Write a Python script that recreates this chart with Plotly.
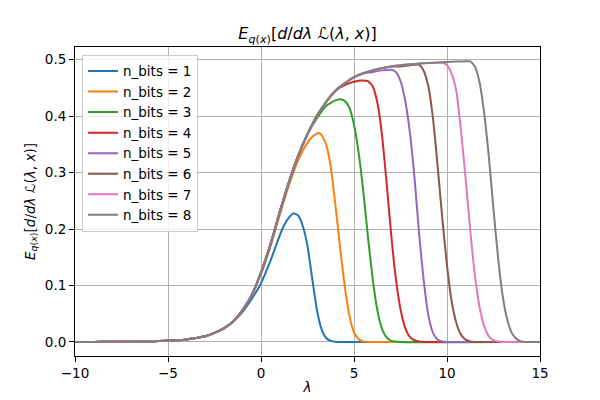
import plotly.graph_objects as go

# shared rising envelope
env_x = [-10.5, -10, -9, -8, -7, -6, -5, -4.5, -4, -3.5, -3, -2.5, -2, -1.5, -1, -0.5,
         0, 0.5, 1, 1.5, 2, 2.5, 3, 3.5, 4, 4.5, 5, 5.5, 6, 6.5, 7, 7.5, 8,
         8.5, 9, 9.5, 10, 10.5]
env_y = [0.0, 0.0, 0.0001, 0.0002, 0.0005, 0.001, 0.002, 0.003, 0.0045, 0.007, 0.010,
         0.016, 0.024, 0.036, 0.056, 0.083, 0.123, 0.172, 0.229, 0.283, 0.330,
         0.368, 0.400, 0.425, 0.445, 0.458, 0.469, 0.476, 0.481, 0.485, 0.488,
         0.490, 0.492, 0.493, 0.494, 0.495, 0.496, 0.4965]

# per-series part after each curve leaves the envelope
tail_x = {
    1: [-1.0, -0.5, 0, 0.5, 1.0, 1.25, 1.5, 1.75, 2.0, 2.25, 2.5, 2.75, 3.0, 3.25, 3.5, 3.75, 4.0, 4.5, 15],
    2: [0, 0.5, 1.0, 1.5, 2.0, 2.5, 2.75, 3.0, 3.1, 3.25, 3.5, 3.75, 4.0, 4.25, 4.5, 4.75, 5.0, 5.25, 5.5, 6.0, 15],
    3: [3.0, 3.5, 4.0, 4.25, 4.5, 4.75, 5.0, 5.25, 5.5, 5.75, 6.0, 6.25, 6.5, 6.75, 7.0, 7.5, 15],
    4: [4.5, 5.0, 5.5, 5.75, 6.0, 6.25, 6.5, 6.75, 7.0, 7.25, 7.5, 7.75, 8.0, 8.25, 8.5, 9.0, 15],
    5: [6.0, 6.5, 7.0, 7.25, 7.5, 7.75, 8.0, 8.25, 8.5, 8.75, 9.0, 9.25, 9.5, 9.75, 10.0, 15],
    6: [7.5, 8.0, 8.5, 8.75, 9.0, 9.25, 9.5, 9.75, 10.0, 10.25, 10.5, 10.75, 11.0, 11.25, 11.5, 15],
    7: [9.5, 9.75, 10.0, 10.25, 10.5, 10.75, 11.0, 11.25, 11.5, 11.75, 12.0, 12.25, 12.5, 12.75, 13.0, 15],
    8: [11.0, 11.25, 11.5, 11.75, 12.0, 12.25, 12.5, 12.75, 13.0, 13.25, 13.5, 13.75, 14.0, 14.25, 15],
}
tail_y = {
    1: [0.053, 0.076, 0.104, 0.143, 0.188, 0.207, 0.220, 0.228, 0.224, 0.205, 0.170, 0.113, 0.058, 0.023, 0.007, 0.002, 0.0005, 0.0, 0.0],
    2: [0.120, 0.168, 0.224, 0.277, 0.322, 0.353, 0.363, 0.369, 0.370, 0.367, 0.350, 0.310, 0.243, 0.168, 0.099, 0.047, 0.017, 0.005, 0.001, 0.0, 0.0],
    3: [0.396, 0.418, 0.428, 0.430, 0.427, 0.415, 0.385, 0.335, 0.267, 0.186, 0.113, 0.057, 0.024, 0.008, 0.002, 0.0, 0.0],
    4: [0.455, 0.461, 0.463, 0.462, 0.453, 0.425, 0.368, 0.283, 0.190, 0.112, 0.058, 0.025, 0.009, 0.003, 0.001, 0.0, 0.0],
    5: [0.478, 0.481, 0.482, 0.478, 0.462, 0.428, 0.372, 0.292, 0.192, 0.108, 0.047, 0.016, 0.004, 0.001, 0.0, 0.0],
    6: [0.488, 0.490, 0.491, 0.480, 0.452, 0.395, 0.310, 0.218, 0.135, 0.072, 0.034, 0.013, 0.004, 0.001, 0.0, 0.0],
    7: [0.4945, 0.495, 0.490, 0.475, 0.445, 0.375, 0.290, 0.198, 0.118, 0.062, 0.028, 0.010, 0.003, 0.001, 0.0, 0.0],
    8: [0.4972, 0.497, 0.488, 0.460, 0.405, 0.328, 0.235, 0.148, 0.080, 0.038, 0.015, 0.005, 0.001, 0.0, 0.0],
}
n_bits = [1, 2, 3, 4, 5, 6, 7, 8]
colors = ["#1f77b4", "#ff7f0e", "#2ca02c", "#d62728",
          "#9467bd", "#8c564b", "#e377c2", "#7f7f7f"]
x_ticks = [-10, -5, 0, 5, 10, 15]
y_ticks = [0.0, 0.1, 0.2, 0.3, 0.4, 0.5]

label = "<i>E</i><sub><i>q</i>(<i>x</i>)</sub>[<i>d</i>/<i>dλ</i> ℒ(<i>λ</i>, <i>x</i>)]"

fig = go.Figure()
for n, c in zip(n_bits, colors):
    tx, ty = tail_x[n], tail_y[n]
    xs = [x for x in env_x if x < tx[0]] + tx
    ys = [y for x, y in zip(env_x, env_y) if x < tx[0]] + ty
    fig.add_trace(go.Scatter(x=xs, y=ys, mode="lines", name=f"n_bits = {n}",
                             line=dict(color=c, width=2, shape="spline", smoothing=0.5,
                                       simplify=False)))

axis_common = dict(showgrid=True, gridcolor="#b0b0b0", gridwidth=0.8,
                   showline=True, linecolor="black", linewidth=1, mirror=True,
                   ticks="outside", ticklen=5, tickcolor="black", zeroline=False,
                   automargin=False, layer="below traces",
                   tickfont=dict(size=13.5, color="black"))
fig.update_layout(
    width=592, height=392,
    margin=dict(l=67, r=60, t=39, b=44, autoexpand=False),
    paper_bgcolor="white", plot_bgcolor="white",
    font=dict(family="DejaVu Sans", color="black"),
    title=dict(text=label, x=0.506, xanchor="center", y=0.934, yanchor="middle",
               xref="container", yref="container", font=dict(size=16)),
    xaxis=dict(range=[-10, 15], tickvals=x_ticks, **axis_common,
               title=dict(text="<i>λ</i>", font=dict(size=13.5), standoff=2)),
    yaxis=dict(range=[-0.0249, 0.5224], tickvals=y_ticks, tickformat=".1f", **axis_common,
               title=dict(text=label, font=dict(size=13.5), standoff=6)),
    legend=dict(x=0.015, y=0.975, xanchor="left", yanchor="top",
                bgcolor="rgba(255,255,255,0.8)", bordercolor="#cccccc", borderwidth=1,
                font=dict(size=13.5), tracegroupgap=0),
    showlegend=True,
)
fig.write_html("out.html")
